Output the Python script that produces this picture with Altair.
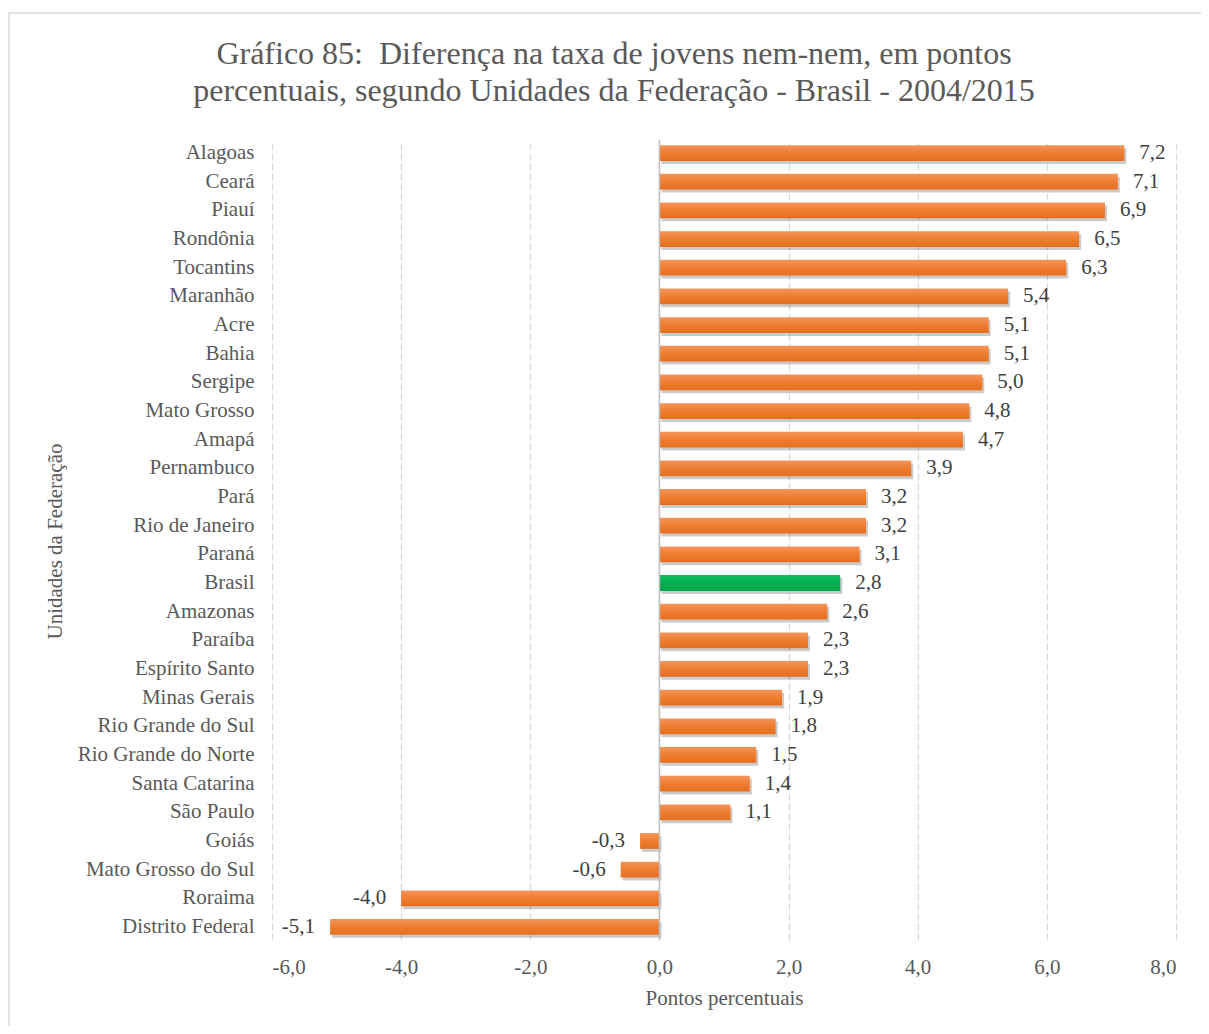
import altair as alt
import pandas as pd

categories = ["Alagoas", "Ceará", "Piauí", "Rondônia", "Tocantins", "Maranhão", "Acre", "Bahia",
              "Sergipe", "Mato Grosso", "Amapá", "Pernambuco", "Pará", "Rio de Janeiro", "Paraná",
              "Brasil", "Amazonas", "Paraíba", "Espírito Santo", "Minas Gerais", "Rio Grande do Sul",
              "Rio Grande do Norte", "Santa Catarina", "São Paulo", "Goiás", "Mato Grosso do Sul",
              "Roraima", "Distrito Federal"]
values = [7.2, 7.1, 6.9, 6.5, 6.3, 5.4, 5.1, 5.1, 5.0, 4.8, 4.7, 3.9, 3.2, 3.2, 3.1, 2.8, 2.6,
          2.3, 2.3, 1.9, 1.8, 1.5, 1.4, 1.1, -0.3, -0.6, -4.0, -5.1]
x_ticks = [-6, -4, -2, 0, 2, 4, 6, 8]

df = pd.DataFrame({"uf": categories, "v": values})

FONT = "Liberation Serif"
W, H = 904, 800

base = alt.Chart(df).transform_calculate(
    lab="replace(replace(format(datum.v, '.1f'), '.', ','), '\u2212', '-')"
)

x_enc = alt.X("v:Q", scale=alt.Scale(domain=[-6, 8], nice=False, zero=False),
              axis=alt.Axis(values=x_ticks,
                            labelExpr="replace(replace(format(datum.value, '.1f'), '.', ','), '\u2212', '-')",
                            title="Pontos percentuais", grid=True, gridDash=[7, 3],
                            gridColor="#d9d9d9", gridWidth=1.3, domain=False, ticks=False,
                            labelPadding=16, labelFontSize=21, labelColor="#595959",
                            labelFont=FONT, titleFont=FONT,
                            titleFontSize=21, titleColor="#595959", titleFontWeight="normal",
                            titleX=W / 2, titleY=58, titleBaseline="middle"))
y_enc = alt.Y("uf:N", sort=categories,
              scale=alt.Scale(paddingInner=0.45, paddingOuter=0.18),
              axis=alt.Axis(title="Unidades da Federação", domain=False, ticks=False, grid=False,
                            labelPadding=18, labelFontSize=21, labelColor="#595959",
                            labelFont=FONT, titleFont=FONT,
                            titleFontSize=21, titleColor="#595959", titleFontWeight="normal",
                            titleAngle=-90, titleX=-217, titleY=401, titleAlign="center",
                            titleBaseline="middle"))

border = alt.Chart(pd.DataFrame({"a": [0]})).mark_rect(
    fill="transparent", stroke="#d9d9d9", strokeWidth=1.5
).encode(x=alt.value(-263), x2=alt.value(945), y=alt.value(-127), y2=alt.value(905))

zero = alt.Chart(pd.DataFrame({"z": [0]})).mark_rule(color="#bfbfbf", strokeWidth=1.5).encode(
    x=alt.X("z:Q", scale=alt.Scale(domain=[-6, 8], nice=False, zero=False))
)

shadow = base.mark_bar(color="#444444", opacity=0.28, xOffset=2, yOffset=3).encode(x=x_enc, y=y_enc)

orange = base.transform_filter("datum.uf != 'Brasil'").mark_bar(
    color=alt.Gradient(gradient="linear", x1=0, y1=0, x2=0, y2=1,
                       stops=[alt.GradientStop(color="#F5955A", offset=0),
                              alt.GradientStop(color="#ED7D31", offset=0.5),
                              alt.GradientStop(color="#E56F1E", offset=1)])
).encode(x=x_enc, y=y_enc)

green = base.transform_filter("datum.uf == 'Brasil'").mark_bar(
    color=alt.Gradient(gradient="linear", x1=0, y1=0, x2=0, y2=1,
                       stops=[alt.GradientStop(color="#12BB5E", offset=0),
                              alt.GradientStop(color="#00B050", offset=0.5),
                              alt.GradientStop(color="#00A448", offset=1)])
).encode(x=x_enc, y=y_enc)

pos_text = base.transform_filter("datum.v >= 0").mark_text(
    align="left", baseline="middle", dx=15, font=FONT, fontSize=21, color="#404040"
).encode(x=x_enc, y=y_enc, text="lab:N")

neg_text = base.transform_filter("datum.v < 0").mark_text(
    align="right", baseline="middle", dx=-15, font=FONT, fontSize=21, color="#404040"
).encode(x=x_enc, y=y_enc, text="lab:N")

chart = alt.layer(border, shadow, orange, green, zero, pos_text, neg_text).properties(
    width=W, height=H,
    autosize=alt.AutoSizeParams(type="none"),
    padding={"left": 264, "top": 132, "right": 25, "bottom": 86},
    background="white",
    view=alt.ViewBackground(stroke="transparent", strokeWidth=0),
    title=alt.TitleParams(
        text=["Gráfico 85:\u00a0 Diferença na taxa de jovens nem-nem, em pontos",
              "percentuais, segundo Unidades da Federação - Brasil - 2004/2015"],
        font=FONT, fontSize=32, fontWeight="normal", color="#595959",
        anchor="middle", lineHeight=37, dx=-110, offset=0, dy=96),
).configure_view(stroke="transparent", strokeWidth=0).configure(font=FONT)

chart.save("out.html", embed_options={"renderer": "svg", "actions": False})
